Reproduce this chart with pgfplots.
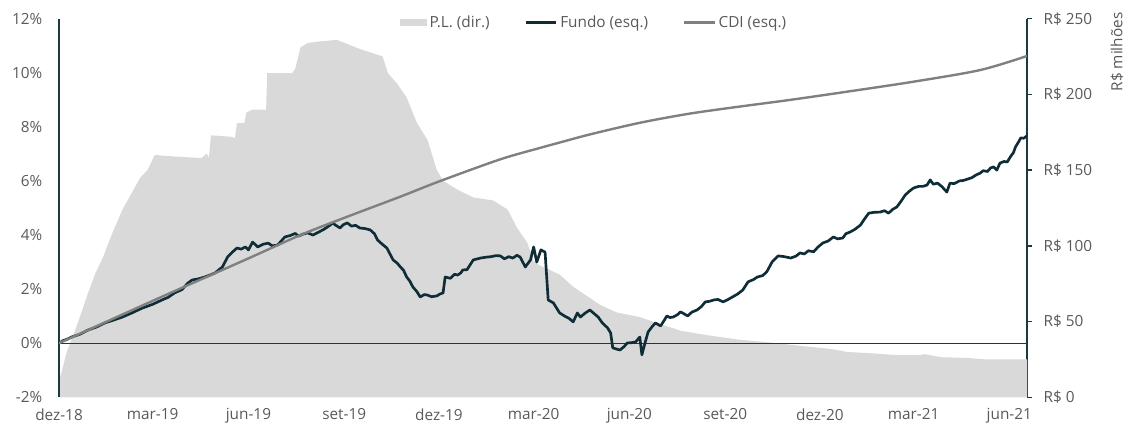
\documentclass[border=0pt]{standalone}
\usepackage{pgfplots}
\pgfplotsset{compat=1.18}
\usepackage{fontspec}
\setmainfont{Open Sans}
\definecolor{txt}{HTML}{595959}
\definecolor{fundo}{HTML}{0E2D36}
\definecolor{axl}{HTML}{1B3A40}
\definecolor{cdi}{HTML}{808080}
\definecolor{pl}{HTML}{D9D9D9}
\begin{document}
\begin{tikzpicture}[font=\fontsize{11.5pt}{13.8pt}\selectfont]
\useasboundingbox (-44.25pt,-21.5pt) rectangle (810.75pt,298pt);
% right axis: P.L.
\begin{axis}[
  at={(0,0)}, anchor=south west,
  scale only axis, width=726pt, height=284pt,
  xmin=0, xmax=930, ymin=0, ymax=250,
  axis y line*=right, axis x line=none,
  ytick={0,50,100,150,200,250},
  yticklabel={R\$ \pgfmathprintnumber{\tick}},
  /pgf/number format/assume math mode=true,
  y axis line style={draw=axl, line width=1.2pt},
  ytick style={draw=axl, line width=1.2pt},
  major tick length=4pt, tick align=outside,
  yticklabel style={text=txt, xshift=5pt},
  clip=false,
]
\addplot[fill=pl, draw=none] coordinates {
(0,11) (3,18) (7,29) (12,38) (18,49) (28,69) (35,82) (42,92) (51,108) (61,124) (70,135) (78,145) (85,150) (92,160)
(111,159) (137,158) (142,161) (144,158) (146,173) (166,172) (169,171) (171,181) (178,181) (180,188) (186,190)
(199,190) (200,214) (224,214) (227,217) (232,231) (239,234) (251,235) (267,236) (289,230) (311,225) (316,214)
(325,207) (334,198) (344,181) (354,170) (359,159) (363,150) (369,143) (383,137) (398,132) (417,130) (431,124)
(440,112) (450,102) (456,90) (462,87) (472,84) (481,81) (494,73) (507,67) (520,61) (536,56) (558,53) (575,49)
(597,44) (623,41) (654,38) (686,36) (712,34) (741,32) (757,30) (782,29) (802,28) (827,28) (832,28.5) (847,26.5)
(873,26) (892,25) (930,25)
} \closedcycle;
\node[rotate=90, text=txt, anchor=center] at (rel axis cs:1.093,0.912) {R\$ milhões};
\end{axis}
% left axis: Fundo, CDI
\begin{axis}[
  at={(0,0)}, anchor=south west,
  scale only axis, width=726pt, height=284pt,
  xmin=0, xmax=930, ymin=-2, ymax=12,
  axis y line*=left, axis x line*=bottom,
  x axis line style={draw=none},
  y axis line style={draw=axl, line width=1.2pt},
  xtick={0,90,182,274,365,456,548,640,731,821,913},
  xticklabels={dez-18,mar-19,jun-19,set-19,dez-19,mar-20,jun-20,set-20,dez-20,mar-21,jun-21},
  xtick style={draw=none}, ytick style={draw=none},
  ytick={-2,0,2,4,6,8,10,12},
  yticklabel={\pgfmathprintnumber{\tick}\%},
  /pgf/number format/assume math mode=true,
  yticklabel style={text=txt, xshift=-9pt},
  xticklabel style={text=txt, yshift=-5pt},
  legend style={draw=none, fill=none, at={(axis description cs:0.553,0.99)}, anchor=center,
    legend columns=3, text=txt, inner sep=0pt,
    /tikz/every even column/.append style={column sep=24pt}},
  legend cell align=left,
  legend image code/.code={\draw[#1] (0pt,0pt) -- (23pt,0pt);},
]
\addlegendimage{legend image code/.code={\fill[pl] (0pt,-2.25pt) rectangle (20pt,2.25pt);}}
\addlegendentry{P.L. (dir.)}
\addplot[draw=axl, line width=1pt, forget plot] coordinates {(0,0) (930,0)};
\addplot[draw=fundo, line width=2pt, line join=round] coordinates {
(0,0) (4,0.10) (8,0.15) (12,0.23) (20,0.33) (28,0.49) (36,0.60) (44,0.75) (52,0.85) (61,0.97) (70,1.12) (80,1.30)
(90,1.44) (99,1.60) (105,1.70) (111,1.86) (118,1.98) (124,2.23) (128,2.34) (134,2.38) (140,2.45)
(145,2.52) (150,2.60) (157,2.82) (162,3.19) (166,3.35) (171,3.52) (175,3.48) (179,3.56) (182,3.45) (186,3.74)
(191,3.56) (196,3.66) (201,3.70) (205,3.60) (210,3.63) (214,3.80) (217,3.93) (222,3.98) (227,4.06) (230,3.96)
(234,4.03) (239,4.08) (244,4.00) (250,4.12) (254,4.20) (258,4.30) (263,4.44) (266,4.36) (270,4.26) (273,4.38)
(277,4.45) (281,4.33) (285,4.36) (289,4.26) (294,4.24) (299,4.19) (303,4.05)
(306,3.82) (310,3.68) (315,3.52) (321,3.08) (325,2.96) (328,2.82) (331,2.70) (334,2.45) (337,2.30) (340,2.08)
(344,1.90) (347,1.71) (351,1.80) (354,1.78) (358,1.72) (363,1.75) (366,1.82) (369,1.86)
(371,2.45) (376,2.40) (380,2.55) (383,2.52) (386,2.60) (388,2.71) (392,2.72) (395,2.90) (398,3.08) (405,3.15)
(410,3.18) (415,3.20) (420,3.24) (424,3.23) (428,3.12) (432,3.20) (436,3.15) (440,3.25) (443,3.19) (448,2.82) (453,3.08)
(456,3.56) (459,3.00) (463,3.45) (467,3.37) (470,1.60) (475,1.49) (481,1.12) (486,1.00) (490,0.92) (494,0.79) (498,1.12) (501,0.97)
(505,1.10) (510,1.23) (514,1.10) (518,0.97) (522,0.75) (527,0.57) (530,0.38) (532,-0.17) (536,-0.22) (539,-0.25) (543,-0.12)
(546,0.01) (550,0.02) (554,0.05) (558,0.23) (560,-0.43) (563,0.01) (566,0.42) (570,0.62) (573,0.75) (578,0.64)
(582,0.88) (584,1.01) (587,0.95) (590,0.97) (594,1.05) (597,1.16) (600,1.10) (604,1.01) (608,1.15) (613,1.23)
(617,1.35) (621,1.53) (625,1.55) (629,1.60) (633,1.62) (638,1.53) (642,1.60) (647,1.71) (652,1.82) (657,1.97)
(662,2.27) (667,2.35) (671,2.45) (676,2.50) (680,2.64) (685,3.00) (691,3.23) (697,3.20)
(703,3.15) (708,3.22) (712,3.34) (716,3.30) (720,3.42) (725,3.38) (729,3.55) (734,3.71) (739,3.78) (744,3.93)
(748,3.86) (753,3.89) (756,4.05) (760,4.11) (765,4.22) (770,4.37) (774,4.60) (778,4.81) (783,4.84) (789,4.85)
(793,4.90) (797,4.81) (801,4.95) (805,5.04) (809,5.25) (813,5.48) (817,5.62) (821,5.74) (826,5.80) (830,5.80) (834,5.85)
(837,6.04) (840,5.88) (844,5.92) (848,5.80) (853,5.59) (856,5.92) (860,5.90) (865,6.00) (869,6.02) (873,6.07)
(877,6.12) (881,6.22) (885,6.29) (888,6.38) (892,6.35) (895,6.48) (898,6.52) (901,6.40) (904,6.66) (908,6.72)
(911,6.70) (914,6.89) (917,7.05) (919,7.26) (922,7.45) (924,7.59) (927,7.58) (930,7.67)
};
\addlegendentry{Fundo (esq.)}
\addplot[draw=cdi, line width=1.8pt, line join=round, smooth, tension=0.5] coordinates {
(0,0) (89,1.55) (181,3.12) (232,4.00) (275,4.65) (328,5.42) (365,5.98) (424,6.80) (462,7.22) (481,7.42)
(510,7.72) (558,8.15) (606,8.49) (654,8.75) (703,9.00) (757,9.30) (821,9.67) (885,10.10) (930,10.62)
};
\addlegendentry{CDI (esq.)}
\end{axis}
\end{tikzpicture}
\end{document}
